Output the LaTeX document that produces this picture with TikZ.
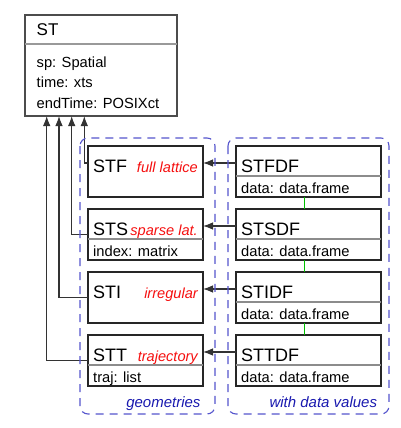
\documentclass[tikz,border=0pt]{standalone}
\usepackage{fontspec}
\setmainfont{Liberation Sans}
\usetikzlibrary{arrows.meta}
\usetikzlibrary{calc}
\usetikzlibrary{positioning}
\definecolor{grpblue}{RGB}{85,85,205}
\definecolor{lblblue}{RGB}{25,25,175}
\definecolor{kindred}{RGB}{245,15,15}
\definecolor{linkgreen}{RGB}{0,190,0}

\begin{document}
\begin{tikzpicture}[x=1pt,y=1pt,>={Latex[length=10pt,width=7.5pt]}]
		\tikzstyle{cls}=[rectangle,draw=black!85,line width=1.1pt,inner sep=0pt,outer sep=0pt];
		\tikzstyle{geom}=[cls,minimum width=115pt,minimum height=51pt];
		\tikzstyle{dfcls}=[cls,minimum width=145pt,minimum height=51pt];
		\tikzstyle{cname}=[inner sep=0pt,anchor=base west,font=\fontsize{18}{20}\selectfont];
		\tikzstyle{slot}=[inner sep=0pt,anchor=base west,font=\fontsize{14.7}{17}\selectfont];
		\tikzstyle{kind}=[inner sep=0pt,anchor=base east,text=kindred,font=\fontsize{14.6}{17}\selectfont\itshape];
		\tikzstyle{div}=[draw=black!45,line width=1.1pt];
		\tikzstyle{inh}=[->,draw=black!80,line width=1.1pt];
		\tikzstyle{grp}=[draw=grpblue,dash pattern=on 8pt off 6pt,line width=1.1pt,rounded corners=8pt];
		\tikzstyle{grplabel}=[inner sep=0pt,anchor=base east,text=lblblue,font=\fontsize{15}{17}\selectfont\itshape];
		\useasboundingbox (0,0) rectangle (401,-428);

		% base class
		\node[cls,draw=black!70,minimum width=152pt,minimum height=101pt](st) at (101,-65.5){};
		\node[cname,font=\fontsize{17}{20}\selectfont](stname) at ($(st.north west)+(11.5pt,-21pt)$){ST};
		\draw[div,draw=black!40]($(st.north west)+(0,-29pt)$)--($(st.north east)+(0,-29pt)$);
		\node[slot](stsp) at ($(st.north west)+(11.5pt,-52pt)$){sp: Spatial};
		\node[slot](sttime) at ($(st.north west)+(11.5pt,-72.5pt)$){time: xts};
		\node[slot](stend) at ($(st.north west)+(11.5pt,-93pt)$){endTime: POSIXct};

		% geometries
		\node[geom](stf) at (145.5,-171.5){};
		\node[geom,below=12pt of stf](sts){};
		\node[geom,below=12pt of sts](sti){};
		\node[geom,below=12pt of sti](stt){};
		\foreach \n/\t/\k in {stf/STF/full lattice,sts/STS/sparse lat.,sti/STI/irregular,stt/STT/trajectory}{
			\node[cname](\n-name) at ($(\n.north west)+(5pt,-26.5pt)$){\t};
			\node[kind](\n-kind) at ($(\n.north east)+(-5pt,-26.5pt)$){\k};
		}
		\draw[div]($(sts.north west)+(0,-30pt)$)--($(sts.north east)+(0,-30pt)$);
		\node[slot](sts-slot) at ($(sts.north west)+(5pt,-47pt)$){index: matrix};
		\draw[div]($(stt.north west)+(0,-30pt)$)--($(stt.north east)+(0,-30pt)$);
		\node[slot](stt-slot) at ($(stt.north west)+(5pt,-47pt)$){traj: list};

		% with data
		\node[dfcls,right=33pt of stf](stfdf){};
		\node[dfcls,right=33pt of sts](stsdf){};
		\node[dfcls,right=33pt of sti](stidf){};
		\node[dfcls,right=33pt of stt](sttdf){};
		\foreach \n/\t in {stfdf/STFDF,stsdf/STSDF,stidf/STIDF,sttdf/STTDF}{
			\node[cname](\n-name) at ($(\n.north west)+(5pt,-26.5pt)$){\t};
			\draw[div]($(\n.north west)+(0,-30pt)$)--($(\n.north east)+(0,-30pt)$);
			\node[slot](\n-slot) at ($(\n.north west)+(5pt,-47pt)$){data: data.frame};
		}

		% inheritance
		\draw[inh]([yshift=8.5pt]stf.west)-|([xshift=59.3pt]st.south west);
		\draw[inh](sts.west)-|([xshift=46.7pt]st.south west);
		\draw[inh](sti.west)-|([xshift=34pt]st.south west);
		\draw[inh](stt.west)-|([xshift=21.7pt]st.south west);
		\draw[inh]([yshift=8.5pt]stfdf.west)--([yshift=8.5pt]stf.east);
		\draw[inh]([yshift=8.5pt]stsdf.west)--([yshift=8.5pt]sts.east);
		\draw[inh]([yshift=8.5pt]stidf.west)--([yshift=8.5pt]sti.east);
		\draw[inh]([yshift=8.5pt]sttdf.west)--([yshift=8.5pt]stt.east);
		\draw[linkgreen,line width=1.1pt]([xshift=-4pt]stfdf.south)--([xshift=-4pt]stsdf.north);
		\draw[linkgreen,line width=1.1pt]([xshift=-4pt]stsdf.south)--([xshift=-4pt]stidf.north);
		\draw[linkgreen,line width=1.1pt]([xshift=-4pt]stidf.south)--([xshift=-4pt]sttdf.north);

		% groups
		\draw[grp]([xshift=-8pt,yshift=8pt]stf.north west) rectangle ([xshift=12pt,yshift=-28pt]stt.south east);
		\node[grplabel](geomlabel) at ($(stt.south east)+(-2.3pt,-21pt)$){geometries};
		\draw[grp]([xshift=-8pt,yshift=8pt]stfdf.north west) rectangle ([xshift=8pt,yshift=-28pt]sttdf.south east);
		\node[grplabel](datalabel) at ($(sttdf.south east)+(-3.7pt,-21pt)$){with data values};
	\end{tikzpicture}
\end{document}
